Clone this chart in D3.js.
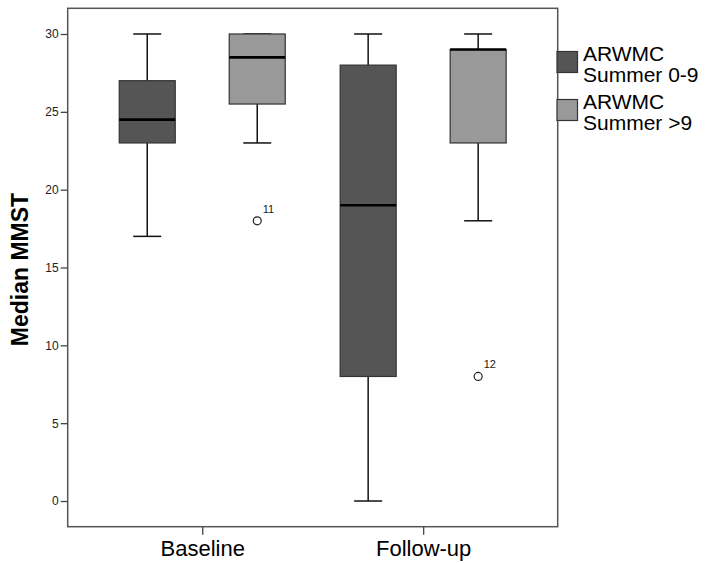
<!DOCTYPE html>
<html>
<head>
<meta charset="utf-8">
<script src="https://cdn.jsdelivr.net/npm/d3@7"></script>
<style>
  body { margin: 0; background: #fff; }
  svg { font-family: "Liberation Sans", Arial, sans-serif; }
</style>
</head>
<body>
<svg id="chart" width="710" height="563"></svg>
<script>
// categories and groups
const categories = ["Baseline", "Follow-up"];
const groups = ["ARWMC Summer 0-9", "ARWMC Summer >9"];
const legendLines = [["ARWMC", "Summer 0-9"], ["ARWMC", "Summer >9"]];
const yTicks = [0, 5, 10, 15, 20, 25, 30];

// ARWMC Summer 0-9 (Baseline, Follow-up)
const min09 = [17, 0];
const q1_09 = [23, 8];
const med09 = [24.5, 19];
const q3_09 = [27, 28];
const max09 = [30, 30];

// ARWMC Summer >9 (Baseline, Follow-up)
const minHi = [23, 18];
const q1_Hi = [25.5, 23];
const medHi = [28.5, 29];
const q3_Hi = [30, 29];
const maxHi = [30, 30];

// outliers
const outCat = ["Baseline", "Follow-up"];
const outGroup = ["ARWMC Summer >9", "ARWMC Summer >9"];
const outValue = [18, 8];
const outLabel = ["11", "12"];

const colors = ["#555555", "#999999"];

// build rows
var boxes = [];
categories.forEach(function (c, i) {
	boxes.push({ cat: c, group: groups[0], min: min09[i], q1: q1_09[i], med: med09[i], q3: q3_09[i], max: max09[i] });
	boxes.push({ cat: c, group: groups[1], min: minHi[i], q1: q1_Hi[i], med: medHi[i], q3: q3_Hi[i], max: maxHi[i] });
});
var outliers = outValue.map(function (v, i) {
	return { cat: outCat[i], group: outGroup[i], value: v, label: outLabel[i] };
});

var svg = d3.select("#chart");
var margin = { left: 67.7, top: 8.3, right: 557.7, bottom: 526.7 };

var xScale = d3.scalePoint().domain(categories).range([margin.left, margin.right]).padding(0.609);
var subScale = d3.scalePoint().domain(groups).range([-55, 55]);
var yScale = d3.scaleLinear().domain([-1.65, 31.65]).range([margin.bottom, margin.top]);
var color = d3.scaleOrdinal().domain(groups).range(colors);

var boxW = 56, capW = 28;

// frame
svg.append("rect")
	.attr("x", margin.left)
	.attr("y", margin.top)
	.attr("width", margin.right - margin.left)
	.attr("height", margin.bottom - margin.top)
	.attr("fill", "none")
	.attr("stroke", "#555")
	.attr("stroke-width", 1.5);

// y axis
var yAxis = svg.append("g")
	.attr("transform", "translate(" + margin.left + ",0)")
	.call(d3.axisLeft(yScale).tickValues(yTicks).tickSize(7).tickPadding(2));
yAxis.select(".domain").remove();
yAxis.selectAll(".tick line").attr("stroke", "#444").attr("stroke-width", 1.3);
yAxis.selectAll(".tick text").attr("fill", "#222").style("font-size", "12px").style("font-family", "'Liberation Sans', Arial, sans-serif");

// x axis
var xAxis = svg.append("g")
	.attr("transform", "translate(0," + margin.bottom + ")")
	.call(d3.axisBottom(xScale).tickSize(8).tickPadding(6));
xAxis.select(".domain").remove();
xAxis.selectAll(".tick line").attr("stroke", "#444").attr("stroke-width", 1.3);
xAxis.selectAll(".tick text").attr("fill", "#000").style("font-size", "22px").style("font-family", "'Liberation Sans', Arial, sans-serif");

// y title
svg.append("text")
	.attr("transform", "translate(28," + 269.5 + ") rotate(-90)")
	.attr("text-anchor", "middle")
	.style("font-size", "23px")
	.style("font-weight", "bold")
	.text("Median MMST");

// boxes
var g = svg.selectAll(".box")
	.data(boxes)
	.enter()
	.append("g")
	.attr("class", "box")
	.attr("transform", function (d) {
		return "translate(" + (xScale(d.cat) + subScale(d.group)) + ",0)";
	});

// whiskers
g.append("line")
	.attr("x1", 0).attr("x2", 0)
	.attr("y1", function (d) { return yScale(d.max); })
	.attr("y2", function (d) { return yScale(d.q3); })
	.attr("stroke", "#111").attr("stroke-width", 1.5);
g.append("line")
	.attr("x1", 0).attr("x2", 0)
	.attr("y1", function (d) { return yScale(d.q1); })
	.attr("y2", function (d) { return yScale(d.min); })
	.attr("stroke", "#111").attr("stroke-width", 1.5);
g.append("line")
	.attr("x1", -capW / 2).attr("x2", capW / 2)
	.attr("y1", function (d) { return yScale(d.max); })
	.attr("y2", function (d) { return yScale(d.max); })
	.attr("stroke", "#111").attr("stroke-width", 1.5);
g.append("line")
	.attr("x1", -capW / 2).attr("x2", capW / 2)
	.attr("y1", function (d) { return yScale(d.min); })
	.attr("y2", function (d) { return yScale(d.min); })
	.attr("stroke", "#111").attr("stroke-width", 1.5);

g.append("rect")
	.attr("x", -boxW / 2)
	.attr("width", boxW)
	.attr("y", function (d) { return yScale(d.q3); })
	.attr("height", function (d) { return yScale(d.q1) - yScale(d.q3); })
	.attr("fill", function (d) { return color(d.group); })
	.attr("stroke", "#333")
	.attr("stroke-width", 1.2);

g.append("line")
	.attr("x1", -boxW / 2).attr("x2", boxW / 2)
	.attr("y1", function (d) { return yScale(d.med); })
	.attr("y2", function (d) { return yScale(d.med); })
	.attr("stroke", "#000").attr("stroke-width", 2.6);

// outliers
svg.selectAll(".outlier")
	.data(outliers)
	.enter()
	.append("circle")
	.attr("class", "outlier")
	.attr("cx", function (d) { return xScale(d.cat) + subScale(d.group); })
	.attr("cy", function (d) { return yScale(d.value); })
	.attr("r", 4)
	.attr("fill", "#fff")
	.attr("stroke", "#222")
	.attr("stroke-width", 1.2);
svg.selectAll(".outlierLabel")
	.data(outliers)
	.enter()
	.append("text")
	.attr("class", "outlierLabel")
	.attr("x", function (d) { return xScale(d.cat) + subScale(d.group) + 5.5; })
	.attr("y", function (d) { return yScale(d.value) - 8; })
	.style("font-size", "11px")
	.attr("fill", "#222")
	.text(function (d) { return d.label; });

// legend
var legend = svg.selectAll(".legend")
	.data(groups)
	.enter()
	.append("g")
	.attr("class", "legend")
	.attr("transform", function (d, i) { return "translate(557," + (51.5 + i * 48) + ")"; });
legend.append("rect")
	.attr("width", 20.5)
	.attr("height", 21)
	.attr("fill", function (d) { return color(d); })
	.attr("stroke", "#333")
	.attr("stroke-width", 1.2);
legend.append("text")
	.attr("x", 26)
	.style("font-size", "21px")
	.selectAll("tspan")
	.data(function (d, i) { return legendLines[i]; })
	.enter()
	.append("tspan")
	.attr("x", 26)
	.attr("y", function (d, j) { return 9.5 + j * 21; })
	.text(function (d) { return d; });
</script>
</body>
</html>
